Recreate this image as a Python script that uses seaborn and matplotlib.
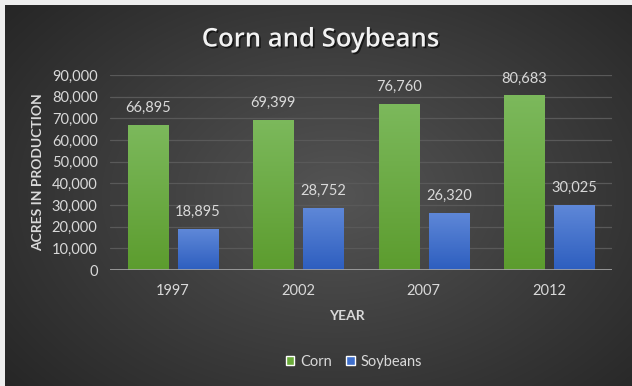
import numpy as np
import pandas as pd
import matplotlib
matplotlib.use("Agg")
import matplotlib.pyplot as plt
import seaborn as sns
from matplotlib import patheffects as pe
from matplotlib.colors import LinearSegmentedColormap
from matplotlib.patches import Patch

# Acres in production by census year
years = ["1997", "2002", "2007", "2012"]
corn = [66895, 69399, 76760, 80683]
soybeans = [18895, 28752, 26320, 30025]
crops = ["Corn", "Soybeans"]
yticks = [0, 10000, 20000, 30000, 40000, 50000, 60000, 70000, 80000, 90000]

df = pd.DataFrame({
    "Year": years * 2,
    "Crop": [crops[0]] * len(years) + [crops[1]] * len(years),
    "Acres": corn + soybeans,
})

sns.set_theme(style="dark")
plt.rcParams["font.family"] = ["Lato", "DejaVu Sans"]

W, H = 632, 386
fig = plt.figure(figsize=(W / 100, H / 100), dpi=100, facecolor="#eeeeee")

# dark radial-gradient panel behind everything
bg = fig.add_axes([5 / W, 0, (W - 5) / W, (H - 5) / H])
yy, xx = np.mgrid[0:H - 5, 0:W - 5]
r = np.sqrt(((xx - 330) / 430.0) ** 2 + ((yy - 190) / 300.0) ** 2)
bg_cmap = LinearSegmentedColormap.from_list("bg", ["#545454", "#3d3d3d", "#262626"])
bg.imshow(np.clip(r, 0, 1), cmap=bg_cmap, vmin=0, vmax=1, aspect="auto",
          interpolation="bilinear")
bg.set_axis_off()

ax = fig.add_axes([110 / W, (H - 270) / H, 502 / W, 195 / H])
ax.patch.set_alpha(0)

green, blue = "#6aaa3a", "#3f6fcc"
sns.barplot(data=df, x="Year", y="Acres", hue="Crop", hue_order=crops,
            palette=[green, blue], width=0.8, gap=0.2, ax=ax, legend=False,
            linewidth=0, zorder=3)

ax.set_ylim(0, 90000)
ax.set_yticks(yticks)
ax.set_yticklabels([f"{v:,}" for v in yticks])
xlim = ax.get_xlim()

# vertical gradient fill for each bar, clipped to the bar shape
grad = {green: LinearSegmentedColormap.from_list("g", ["#5c9c2e", "#7cb95c"]),
        blue: LinearSegmentedColormap.from_list("b", ["#2d5ebf", "#5f88d8"])}
ramp = np.linspace(0, 1, 256).reshape(-1, 1)
for cont, col in zip(ax.containers, [green, blue]):
    for bar in cont:
        x0, y0 = bar.get_x(), bar.get_y()
        w, h = bar.get_width(), bar.get_height()
        im = ax.imshow(ramp, cmap=grad[col], origin="lower", aspect="auto",
                       extent=[x0, x0 + w, y0, y0 + h], zorder=3.5)
        im.set_clip_path(bar)
    ax.bar_label(cont, labels=[f"{int(b.get_height()):,}" for b in cont],
                 padding=7, color="#d9d9d9", fontsize=10.5, zorder=5)
ax.set_xlim(xlim)
ax.set_ylim(0, 90000)

ax.grid(axis="y", color="#595959", linewidth=0.9, zorder=0)
ax.grid(axis="x", visible=False)
ax.axhline(0, color="#a6a6a6", linewidth=1.2, zorder=4)
for s in ax.spines.values():
    s.set_visible(False)
ax.tick_params(axis="both", length=0, colors="#d9d9d9", labelsize=10.5)
ax.tick_params(axis="y", pad=9)
ax.tick_params(axis="x", pad=10)
ax.set_xlabel("")
ax.set_ylabel("")

fig.text(38 / W, 1 - 172 / H, "ACRES IN PRODUCTION", rotation=90,
         ha="center", va="center", color="#d9d9d9", fontsize=10,
         fontweight="bold")
fig.text(347 / W, 1 - 316 / H, "YEAR", ha="center", va="center",
         color="#d9d9d9", fontsize=10, fontweight="bold")

fig.text(321 / W, 1 - 40 / H, "Corn and Soybeans", ha="center", va="center",
         color="#f2f2f2", fontsize=18.5, fontweight="semibold",
         family=["Open Sans", "DejaVu Sans"],
         path_effects=[pe.SimplePatchShadow(offset=(1.2, -1.2),
                                            shadow_rgbFace="black", alpha=0.6),
                       pe.Normal()])

handles = [Patch(facecolor=green, label=crops[0]),
           Patch(facecolor=blue, label=crops[1])]
fig.legend(handles=handles, loc="center", bbox_to_anchor=(354 / W, 1 - 362 / H),
           ncol=2, frameon=False, fontsize=10.5, labelcolor="#d9d9d9",
           handlelength=0.6, handleheight=0.6, handletextpad=0.4,
           columnspacing=1.0)

fig.savefig("out.png", dpi=100, facecolor=fig.get_facecolor())
